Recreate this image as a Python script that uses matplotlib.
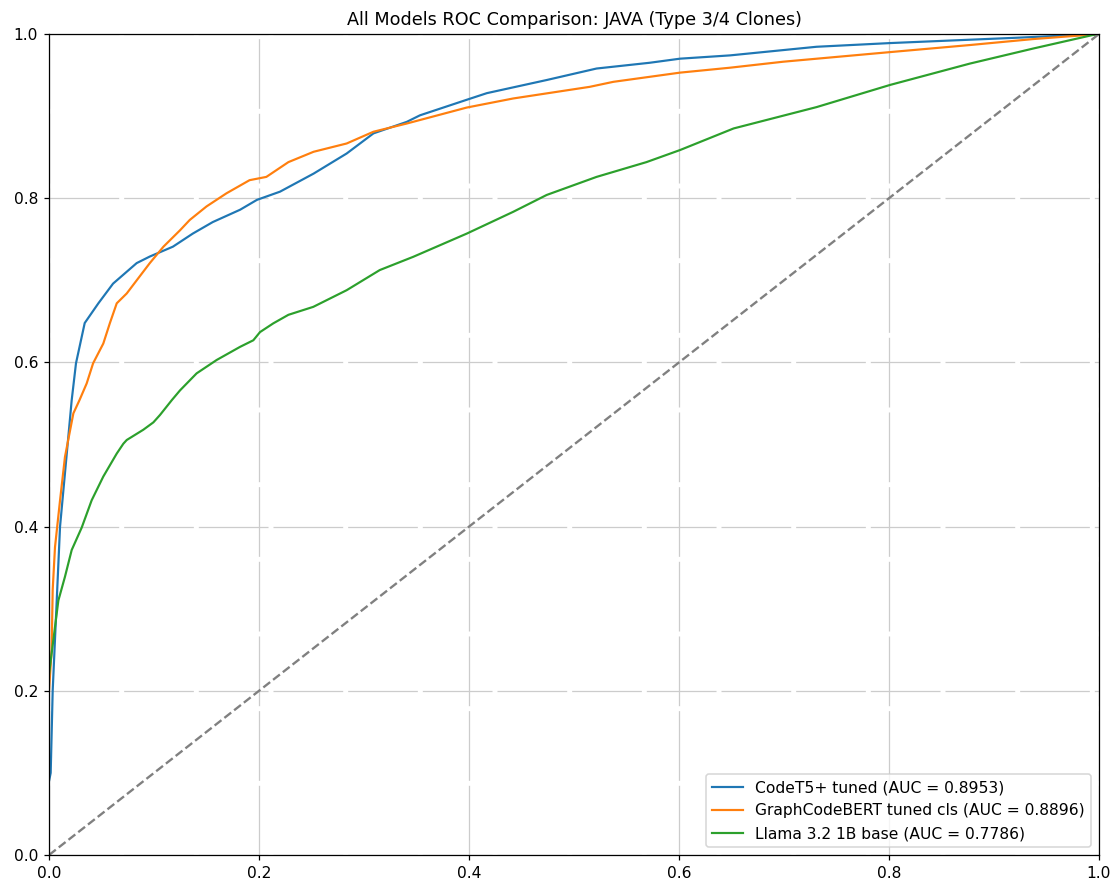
import matplotlib.pyplot as plt

# ROC points
codet5_fpr = [0.0, 0.0016, 0.0035, 0.0105, 0.0216, 0.0257, 0.034, 0.047, 0.061, 0.0835,
              0.096, 0.118, 0.137, 0.156, 0.182, 0.198, 0.22, 0.252, 0.2835, 0.309,
              0.3407, 0.3533, 0.398, 0.417, 0.474, 0.5215, 0.572, 0.601, 0.6486, 0.731,
              0.801, 0.9216, 1.0]
codet5_tpr = [0.09, 0.10, 0.20, 0.40, 0.554, 0.599, 0.648, 0.672, 0.696, 0.721,
              0.729, 0.741, 0.757, 0.771, 0.786, 0.798, 0.808, 0.830, 0.8545, 0.879,
              0.893, 0.901, 0.920, 0.928, 0.944, 0.958, 0.965, 0.970, 0.974, 0.9845,
              0.989, 0.9955, 1.0]

gcb_fpr = [0.0, 0.0025, 0.0035, 0.0057, 0.0105, 0.0152, 0.0232, 0.029, 0.0359, 0.042,
           0.0517, 0.058, 0.0645, 0.074, 0.0835, 0.096, 0.109, 0.1248, 0.134, 0.150,
           0.169, 0.191, 0.207, 0.228, 0.252, 0.2835, 0.309, 0.3407, 0.398, 0.442,
           0.515, 0.5375, 0.601, 0.6486, 0.6993, 0.801, 0.877, 0.9375, 1.0]
gcb_tpr = [0.20, 0.25, 0.323, 0.375, 0.432, 0.485, 0.538, 0.554, 0.5745, 0.599,
           0.623, 0.648, 0.672, 0.684, 0.700, 0.721, 0.741, 0.761, 0.7735, 0.790,
           0.806, 0.822, 0.826, 0.844, 0.8566, 0.8667, 0.881, 0.891, 0.9105, 0.9215,
           0.9357, 0.9418, 0.953, 0.959, 0.9663, 0.978, 0.9866, 0.9939, 1.0]

llama_fpr = [0.0, 0.0025, 0.0089, 0.0152, 0.0216, 0.0311, 0.0406, 0.0517, 0.0645, 0.0708,
             0.074, 0.0898, 0.0994, 0.1057, 0.1169, 0.1248, 0.1406, 0.1597, 0.182, 0.1946,
             0.201, 0.2136, 0.228, 0.2517, 0.2835, 0.315, 0.347, 0.398, 0.442, 0.474,
             0.5215, 0.569, 0.601, 0.652, 0.731, 0.801, 0.877, 0.9375, 0.994, 1.0]
llama_tpr = [0.22, 0.2455, 0.31, 0.339, 0.3715, 0.3987, 0.432, 0.461, 0.489, 0.501,
             0.5055, 0.518, 0.527, 0.536, 0.554, 0.566, 0.5867, 0.603, 0.619, 0.627,
             0.637, 0.6476, 0.658, 0.6677, 0.688, 0.7125, 0.7287, 0.757, 0.7834, 0.804,
             0.826, 0.844, 0.8587, 0.885, 0.911, 0.938, 0.964, 0.9824, 0.9988, 1.0]

labels = ["CodeT5+ tuned (AUC = 0.8953)",
          "GraphCodeBERT tuned cls (AUC = 0.8896)",
          "Llama 3.2 1B base (AUC = 0.7786)"]

fig = plt.figure(figsize=(1119 / 112, 882 / 112), dpi=112)
ax = fig.add_axes([0.0438, 0.0306, 0.9383, 0.9308])

ax.plot(codet5_fpr, codet5_tpr, color="#1f77b4", lw=1.4, label=labels[0])
ax.plot(gcb_fpr, gcb_tpr, color="#ff7f0e", lw=1.4, label=labels[1])
ax.plot(llama_fpr, llama_tpr, color="#2ca02c", lw=1.4, label=labels[2])
ax.plot([0, 1], [0, 1], color="gray", linestyle="--", lw=1.5)

ax.set_xlim(0, 1)
ax.set_ylim(0, 1)
ax.grid(True, color="#cccccc", lw=0.8, linestyle=(0, (56, 4)))
ax.set_title("All Models ROC Comparison: JAVA (Type 3/4 Clones)", fontsize=11.3)
ax.legend(loc="lower right")

plt.savefig("out.png", dpi=112)
plt.close()
